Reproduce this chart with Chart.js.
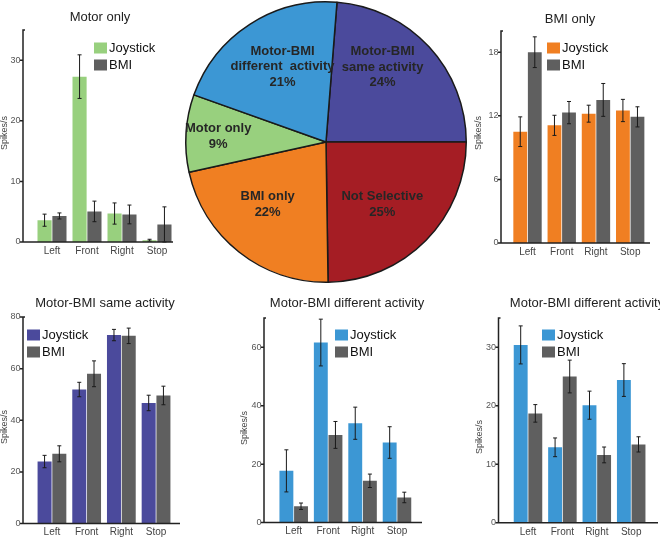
<!DOCTYPE html>
<html>
<head>
<meta charset="utf-8">
<script src="https://cdn.jsdelivr.net/npm/chart.js@4.4.1/dist/chart.umd.min.js"></script>
<style>
html, body { margin: 0; padding: 0; background: #fff; }
#wrap { position: relative; width: 660px; height: 543px; overflow: hidden; }
#wrap canvas { position: absolute; left: 0; top: 0; }
</style>
</head>
<body>
<div id="wrap">
  <canvas id="pie" width="660" height="543"></canvas>
  <canvas id="motorOnly" width="660" height="543"></canvas>
  <canvas id="bmiOnly" width="660" height="543"></canvas>
  <canvas id="sameAct" width="660" height="543"></canvas>
  <canvas id="diffActA" width="660" height="543"></canvas>
  <canvas id="diffActB" width="660" height="543"></canvas>
</div>
<script>
// categories
var directions = ['Left', 'Front', 'Right', 'Stop'];

// pie: share of neurons per class (%)
var pieLabels = [['Motor-BMI', 'same activity'], ['Not Selective'], ['BMI only'], ['Motor only'], ['Motor-BMI', 'different  activity']];
var pieShares = [24, 25, 22, 9, 21];

// spikes/s, mean and error
var motorOnlyJoy = [3.6, 27.3, 4.7, 0.3];
var motorOnlyJoyErr = [1.0, 3.6, 1.75, 0.15];
var motorOnlyBmi = [4.3, 5.05, 4.55, 2.9];
var motorOnlyBmiErr = [0.5, 1.7, 1.55, 2.9];

var bmiOnlyJoy = [10.5, 11.1, 12.2, 12.5];
var bmiOnlyJoyErr = [1.4, 0.95, 0.8, 1.05];
var bmiOnlyBmi = [18.0, 12.3, 13.5, 11.9];
var bmiOnlyBmiErr = [1.45, 1.05, 1.55, 0.95];

var sameJoy = [24.0, 51.9, 73.0, 46.7];
var sameJoyErr = [2.4, 2.8, 2.2, 3.0];
var sameBmi = [27.0, 58.0, 72.7, 49.6];
var sameBmiErr = [3.1, 5.0, 3.0, 3.6];

var diffAJoy = [17.7, 61.6, 34.0, 27.4];
var diffAJoyErr = [7.2, 8.0, 5.5, 5.4];
var diffABmi = [5.6, 30.0, 14.3, 8.6];
var diffABmiErr = [1.1, 4.6, 2.3, 1.8];

var diffBJoy = [30.4, 12.9, 20.1, 24.4];
var diffBJoyErr = [3.25, 1.6, 2.4, 2.8];
var diffBBmi = [18.7, 25.0, 11.6, 13.4];
var diffBBmiErr = [1.5, 2.8, 1.35, 1.3];

var FONT = 'Arial, "Liberation Sans", sans-serif';
Chart.defaults.font.family = FONT;
Chart.defaults.animation = false;

var GREY = '#5f5f5f';

// texte dans les parts du camembert
var pieText = {
  id: 'pieText',
  afterDatasetsDraw: function(chart) {
    var ctx = chart.ctx;
    var meta = chart.getDatasetMeta(0);
    var ds = chart.data.datasets[0];
    var place = chart.options.plugins.pieText.place;
    ctx.save();
    ctx.font = 'bold 13px ' + FONT;
    ctx.fillStyle = '#262626';
    ctx.textAlign = 'center';
    ctx.textBaseline = 'middle';
    meta.data.forEach(function(arc, i) {
      var a = place[i][0] * Math.PI / 180;
      var cx = arc.x + Math.sin(a) * arc.outerRadius * place[i][1];
      var cy = arc.y - Math.cos(a) * arc.outerRadius * place[i][1];
      var lines = [].concat(chart.data.labels[i], ds.data[i] + '%');
      lines.forEach(function(ln, k) {
        ctx.fillText(ln, cx, cy + (k - (lines.length - 1) / 2) * 15.5);
      });
    });
    ctx.restore();
  }
};

new Chart(document.getElementById('pie'), {
  type: 'pie',
  data: {
    labels: pieLabels,
    datasets: [{
      data: pieShares,
      backgroundColor: ['#4b4a9c', '#a51d24', '#f07f22', '#98d07e', '#3c97d4'],
      borderColor: '#1a1a1a',
      borderWidth: 1.5
    }]
  },
  options: {
    responsive: false,
    events: [],
    rotation: 4.5,
    layout: { padding: { left: 185, right: 193, top: 1, bottom: 260 } },
    plugins: {
      legend: { display: false },
      tooltip: { enabled: false },
      pieText: { place: [[37, 0.67], [138, 0.6], [223, 0.61], [273, 0.77], [330, 0.62]] }
    }
  },
  plugins: [pieText]
});

// axes, barres d'erreur, titre, légende
var panelDeco = {
  id: 'panelDeco',
  afterDatasetsDraw: function(chart) {
    var o = chart.options.plugins.panelDeco;
    var ctx = chart.ctx;
    var ys = chart.scales.y;
    var top = chart.chartArea.top, bottom = chart.chartArea.bottom;
    ctx.save();
    ctx.strokeStyle = '#1a1a1a';
    ctx.lineWidth = 1;
    chart.data.datasets.forEach(function(ds, i) {
      chart.getDatasetMeta(i).data.forEach(function(bar, j) {
        var v = ds.data[j], e = ds.errors[j];
        var y1 = ys.getPixelForValue(v + e);
        var y2 = ys.getPixelForValue(Math.max(v - e, 0));
        ctx.beginPath();
        ctx.moveTo(bar.x, y1); ctx.lineTo(bar.x, y2);
        ctx.moveTo(bar.x - 2, y1); ctx.lineTo(bar.x + 2, y1);
        ctx.moveTo(bar.x - 2, y2); ctx.lineTo(bar.x + 2, y2);
        ctx.stroke();
      });
    });
    ctx.strokeStyle = '#222';
    ctx.lineWidth = 1.5;
    ctx.beginPath();
    ctx.moveTo(o.axisX + 2, top);
    ctx.lineTo(o.axisX, top);
    ctx.lineTo(o.axisX, bottom);
    ctx.lineTo(o.xEnd, bottom);
    ys.ticks.forEach(function(t) {
      var py = ys.getPixelForValue(t.value);
      ctx.moveTo(o.axisX - 3, py);
      ctx.lineTo(o.axisX, py);
    });
    ctx.stroke();

    ctx.fillStyle = '#222';
    ctx.font = '13px ' + FONT;
    ctx.textAlign = 'center';
    ctx.textBaseline = 'middle';
    ctx.fillText(o.title, o.titleX, o.titleY);

    ctx.textAlign = 'left';
    chart.data.datasets.forEach(function(ds, i) {
      var ry = o.legY + i * 17;
      ctx.fillStyle = ds.backgroundColor;
      ctx.fillRect(o.legX, ry - 5.5, 13, 11);
      ctx.fillStyle = '#111';
      ctx.fillText(ds.label, o.legX + 15, ry);
    });

    ctx.save();
    ctx.translate(o.spX, o.spY);
    ctx.rotate(-Math.PI / 2);
    ctx.textAlign = 'center';
    ctx.font = '9px ' + FONT;
    ctx.fillStyle = '#444';
    ctx.fillText('Spikes/s', 0, 0);
    ctx.restore();
    ctx.restore();
  }
};

var YW = 30;

function makePanel(id, g, color, joy, joyErr, bmi, bmiErr) {
  return new Chart(document.getElementById(id), {
    type: 'bar',
    data: {
      labels: directions,
      datasets: [
        { label: 'Joystick', data: joy, errors: joyErr, backgroundColor: color },
        { label: 'BMI', data: bmi, errors: bmiErr, backgroundColor: GREY }
      ]
    },
    options: {
      responsive: false,
      events: [],
      datasets: { bar: { categoryPercentage: 0.85, barPercentage: 0.95 } },
      layout: { padding: { left: g.left - YW, right: 660 - g.right, top: g.top, bottom: 543 - g.bottom - 14 } },
      scales: {
        x: {
          offset: true,
          grid: { display: false, drawTicks: false },
          border: { display: false },
          ticks: { color: '#444', font: { size: 10 }, padding: 3, maxRotation: 0, autoSkip: false },
          afterFit: function(s) { s.height = 14; }
        },
        y: {
          min: 0,
          max: g.yMax,
          grid: { display: false, drawTicks: false },
          border: { display: false },
          ticks: { stepSize: g.step, includeBounds: false, color: '#555', font: { size: 9 }, padding: g.left - g.axisX + 2.5 },
          afterFit: function(s) { s.width = YW; }
        }
      },
      plugins: {
        legend: { display: false },
        tooltip: { enabled: false },
        panelDeco: g
      }
    },
    plugins: [panelDeco]
  });
}

makePanel('motorOnly', { title: 'Motor only', axisX: 23, top: 30, bottom: 242, left: 34.5, right: 174.5, xEnd: 173,
  yMax: 35, step: 10, titleX: 100, titleY: 17, legX: 94, legY: 48, spX: 4.5, spY: 133 },
  '#98d07e', motorOnlyJoy, motorOnlyJoyErr, motorOnlyBmi, motorOnlyBmiErr);

makePanel('bmiOnly', { title: 'BMI only', axisX: 501, top: 31, bottom: 243, left: 510.4, right: 647.3, xEnd: 650,
  yMax: 20, step: 6, titleX: 570, titleY: 19, legX: 547, legY: 48, spX: 479, spY: 133 },
  '#f07f22', bmiOnlyJoy, bmiOnlyJoyErr, bmiOnlyBmi, bmiOnlyBmiErr);

makePanel('sameAct', { title: 'Motor-BMI same activity', axisX: 23, top: 317, bottom: 529, left: 34.6, right: 173.4, xEnd: 180,
  yMax: 80, step: 20, titleX: 105, titleY: 303, legX: 27, legY: 335, spX: 4.5, spY: 427 },
  '#4b4a9c', sameJoy, sameJoyErr, sameBmi, sameBmiErr);

makePanel('diffActA', { title: 'Motor-BMI different activity', axisX: 264, top: 318, bottom: 529, left: 276.5, right: 414.2, xEnd: 422,
  yMax: 70, step: 20, titleX: 347, titleY: 303, legX: 335, legY: 335, spX: 245, spY: 428 },
  '#3c97d4', diffAJoy, diffAJoyErr, diffABmi, diffABmiErr);

makePanel('diffActB', { title: 'Motor-BMI different activity', axisX: 498.5, top: 318, bottom: 529, left: 510.8, right: 648.4, xEnd: 658,
  yMax: 35, step: 10, titleX: 587, titleY: 303, legX: 542, legY: 335, spX: 480, spY: 437 },
  '#3c97d4', diffBJoy, diffBJoyErr, diffBBmi, diffBBmiErr);
</script>
</body>
</html>
